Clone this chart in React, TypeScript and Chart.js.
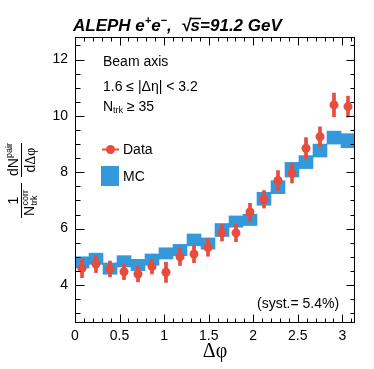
import React, { useEffect, useRef } from "react";
import { Chart, registerables } from "chart.js";

Chart.register(...registerables);

// ---- data ----
const binCenters = [
  0.0785, 0.2356, 0.3927, 0.5498, 0.7069, 0.8639, 1.021, 1.1781, 1.3352, 1.4923,
  1.6493, 1.8064, 1.9635, 2.1206, 2.2777, 2.4347, 2.5918, 2.7489, 2.906, 3.0631,
];
const dataValues = [
  4.59, 4.74, 4.57, 4.47, 4.39, 4.65, 4.45, 5.0, 5.1, 5.33,
  5.85, 5.85, 6.59, 7.04, 7.71, 7.97, 8.85, 9.26, 10.39, 10.33,
];
const dataErrors = [
  0.33, 0.3, 0.28, 0.28, 0.28, 0.26, 0.36, 0.31, 0.31, 0.31,
  0.29, 0.31, 0.31, 0.31, 0.35, 0.35, 0.38, 0.35, 0.42, 0.37,
];
const mcValues = [
  4.8, 4.93, 4.58, 4.84, 4.71, 4.9, 5.12, 5.24, 5.6, 5.47,
  5.95, 6.25, 6.31, 7.06, 7.47, 8.09, 8.36, 8.77, 9.23, 9.12,
];
const mcErrors = [
  0.2, 0.2, 0.2, 0.2, 0.2, 0.2, 0.2, 0.2, 0.21, 0.2,
  0.23, 0.2, 0.2, 0.23, 0.23, 0.26, 0.23, 0.23, 0.23, 0.25,
];
const xTicks = [0, 0.5, 1, 1.5, 2, 2.5, 3];
const yTicks = [4, 6, 8, 10, 12];
const xRange = [0, Math.PI];
const yRange = [2.65, 12.8];

const RED = "#e74c3c";
const BLUE = "#3498db";
const SANS = '"Liberation Sans", Arial, Helvetica, sans-serif';
const SERIF = '"Liberation Serif", "Times New Roman", serif';

type Run = { text: string; font: string; dy?: number; dx?: number };

function drawRuns(ctx: CanvasRenderingContext2D, x: number, y: number, runs: Run[]) {
  let cx = x;
  for (const r of runs) {
    ctx.font = r.font;
    ctx.fillText(r.text, cx, y + (r.dy || 0));
    cx += ctx.measureText(r.text).width + (r.dx || 0);
  }
  return cx;
}

const overlay = {
  id: "overlay",
  afterDatasetsDraw(chart: any) {
    const { ctx, chartArea: a, scales } = chart;
    const xs = scales.x;
    const ys = scales.y;
    ctx.save();
    ctx.strokeStyle = "#000";
    ctx.fillStyle = "#000";
    ctx.lineWidth = 1;

    // frame
    const L = Math.round(a.left) + 0.5;
    const R = Math.round(a.right) - 0.5;
    const T = Math.round(a.top) + 0.5;
    const B = Math.round(a.bottom) - 0.5;
    ctx.strokeRect(L, T, R - L, B - T);

    // x ticks (inward, top and bottom)
    ctx.beginPath();
    for (let k = 1; k <= 31; k++) {
      const v = k / 10;
      if (v > xRange[1]) break;
      const major = k % 5 === 0;
      const len = major ? 8 : 4;
      const px = Math.round(xs.getPixelForValue(v)) + 0.5;
      ctx.moveTo(px, B);
      ctx.lineTo(px, B - len);
      ctx.moveTo(px, T);
      ctx.lineTo(px, T + len);
    }
    // y ticks (inward, left and right)
    for (let k = Math.ceil(yRange[0] * 2); k <= Math.floor(yRange[1] * 2); k++) {
      const v = k / 2;
      const major = k % 4 === 0;
      const py = Math.round(ys.getPixelForValue(v)) + 0.5;
      ctx.moveTo(L, py);
      ctx.lineTo(L + (major ? 9 : 5), py);
      ctx.moveTo(R, py);
      ctx.lineTo(R - (major ? 8 : 4), py);
    }
    ctx.stroke();

    // in-plot text
    ctx.textBaseline = "middle";
    ctx.textAlign = "left";
    const f14 = `14px ${SANS}`;
    const f9 = `9px ${SANS}`;
    ctx.font = f14;
    ctx.fillText("Beam axis", 103, 62);
    ctx.fillText("1.6 \u2264 |\u0394\u03b7| < 3.2", 103, 87);
    drawRuns(ctx, 103, 107, [
      { text: "N", font: f14 },
      { text: "trk", font: f9, dy: 4 },
      { text: " \u2265 35", font: f14 },
    ]);

    // legend
    ctx.strokeStyle = RED;
    ctx.lineWidth = 2;
    ctx.beginPath();
    ctx.moveTo(102, 149.5);
    ctx.lineTo(119, 149.5);
    ctx.stroke();
    ctx.fillStyle = RED;
    ctx.beginPath();
    ctx.arc(110.5, 149.5, 4.5, 0, Math.PI * 2);
    ctx.fill();
    ctx.fillStyle = BLUE;
    ctx.fillRect(101, 166, 18, 20);
    ctx.fillStyle = "#000";
    ctx.font = f14;
    ctx.fillText("Data", 123, 150);
    ctx.fillText("MC", 123, 177);

    ctx.fillText("(syst.= 5.4%)", 257, 304);

    // title
    ctx.textBaseline = "alphabetic";
    const tb = `italic bold 17px ${SANS}`;
    const ts = `italic bold 11px ${SANS}`;
    const xEnd = drawRuns(ctx, 73, 31, [
      { text: "ALEPH e", font: tb, dx: 0 },
      { text: "+", font: ts, dy: -7 },
      { text: "e", font: tb },
      { text: "\u2212", font: ts, dy: -7 },
      { text: ",  ", font: tb },
    ]);
    ctx.font = tb;
    const wr = ctx.measureText("\u221a").width;
    ctx.fillText("\u221a", xEnd, 31);
    const ws = ctx.measureText("s").width;
    ctx.fillText("s=91.2 GeV", xEnd + wr, 31);
    ctx.strokeStyle = "#000";
    ctx.lineWidth = 1.5;
    ctx.beginPath();
    ctx.moveTo(xEnd + wr - 1, 18.5);
    ctx.lineTo(xEnd + wr + ws + 1, 18.5);
    ctx.stroke();

    // x title
    ctx.textAlign = "center";
    ctx.textBaseline = "middle";
    ctx.font = `20px ${SERIF}`;
    ctx.fillText("\u0394\u03c6", (a.left + a.right) / 2, 352);

    // y title (rotated)
    ctx.save();
    ctx.translate(21, (a.top + a.bottom) / 2);
    ctx.rotate(-Math.PI / 2);
    ctx.textBaseline = "alphabetic";
    ctx.textAlign = "left";
    ctx.lineWidth = 1;
    ctx.strokeStyle = "#000";
    // fraction 1: 1 / N_trk^corr
    ctx.beginPath();
    ctx.moveTo(-38, 0.5);
    ctx.lineTo(-3, 0.5);
    ctx.moveTo(3, 0.5);
    ctx.lineTo(37, 0.5);
    ctx.stroke();
    ctx.font = f14;
    ctx.textAlign = "center";
    ctx.fillText("1", -20.5, -3);
    ctx.textAlign = "left";
    ctx.font = f14;
    ctx.fillText("N", -36, 13);
    const nW = ctx.measureText("N").width;
    ctx.font = f9;
    ctx.fillText("corr", -36 + nW + 0.5, 7);
    ctx.fillText("trk", -36 + nW + 0.5, 16);
    // fraction 2: dN^pair / dΔφ
    let x2 = drawRuns(ctx, 4, -3, [
      { text: "dN", font: f14 },
      { text: "pair", font: f9, dy: -6 },
    ]);
    ctx.font = f14;
    const wd = ctx.measureText("d").width;
    ctx.font = `14px ${SERIF}`;
    const wdp = ctx.measureText("\u0394\u03c6").width;
    const start = 20 - (wd + wdp) / 2;
    ctx.font = f14;
    ctx.fillText("d", start, 14);
    ctx.font = `14px ${SERIF}`;
    ctx.fillText("\u0394\u03c6", start + wd, 14);
    ctx.restore();

    ctx.restore();
  },
};

export default function App() {
  const ref = useRef<HTMLCanvasElement | null>(null);
  useEffect(() => {
    if (!ref.current) return;
    const chart = new Chart(ref.current, {
      type: "bar",
      data: {
        datasets: [
          {
            type: "line",
            label: "Data",
            data: binCenters.map((x, i) => ({ x, y: dataValues[i] })),
            showLine: false,
            pointRadius: 4.5,
            pointHoverRadius: 4.5,
            pointBackgroundColor: RED,
            pointBorderWidth: 0,
            borderColor: RED,
            order: 1,
          } as any,
          {
            type: "bar",
            label: "Data err",
            data: binCenters.map((x, i) => ({
              x,
              y: [dataValues[i] - dataErrors[i], dataValues[i] + dataErrors[i]],
            })),
            backgroundColor: RED,
            barThickness: 3,
            grouped: false,
            order: 2,
          } as any,
          {
            type: "bar",
            label: "MC",
            data: binCenters.map((x, i) => ({
              x,
              y: [mcValues[i] - mcErrors[i], mcValues[i] + mcErrors[i]],
            })),
            backgroundColor: BLUE,
            borderWidth: 0,
            barPercentage: 1,
            categoryPercentage: 1,
            grouped: false,
            order: 3,
          } as any,
        ],
      },
      options: {
        animation: false,
        responsive: false,
        events: [],
        layout: { padding: { top: 37, right: 19, left: 0, bottom: 0 } },
        plugins: { legend: { display: false }, tooltip: { enabled: false } },
        scales: {
          x: {
            type: "linear",
            min: xRange[0],
            max: xRange[1],
            offset: false,
            grid: { display: false, drawTicks: false },
            border: { display: false },
            afterBuildTicks: (s: any) => {
              s.ticks = xTicks.map((v) => ({ value: v }));
            },
            afterFit: (s: any) => {
              s.height = 46;
            },
            ticks: {
              color: "#000",
              font: { family: SANS, size: 14 },
              padding: 5,
              maxRotation: 0,
              autoSkip: false,
              callback: (v: any) => String(v),
            },
          },
          y: {
            type: "linear",
            min: yRange[0],
            max: yRange[1],
            grid: { display: false, drawTicks: false },
            border: { display: false },
            afterBuildTicks: (s: any) => {
              s.ticks = yTicks.map((v) => ({ value: v }));
            },
            afterFit: (s: any) => {
              s.width = 75;
            },
            ticks: {
              color: "#000",
              font: { family: SANS, size: 14 },
              padding: 7,
              callback: (v: any) => String(v),
            },
          },
        } as any,
      },
      plugins: [overlay],
    });
    return () => chart.destroy();
  }, []);
  return (
    <canvas
      ref={ref}
      width={374}
      height={369}
      style={{ position: "absolute", left: 0, top: 0, display: "block", background: "#fff" }}
    />
  );
}
